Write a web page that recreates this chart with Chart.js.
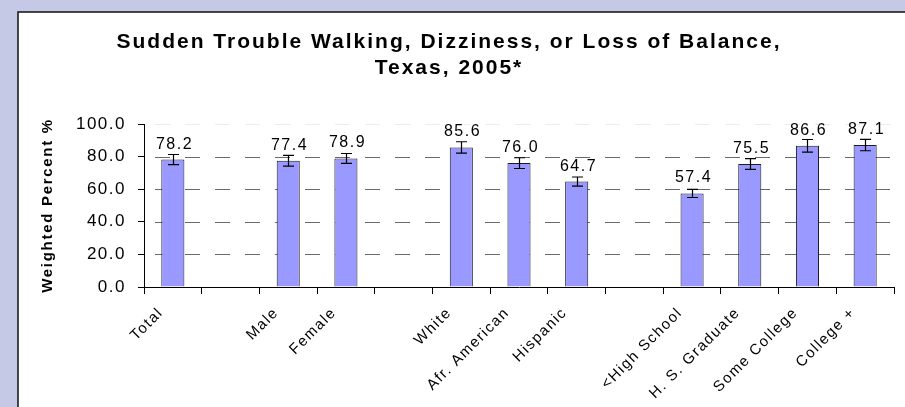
<!DOCTYPE html>
<html>
<head>
<meta charset="utf-8">
<script src="https://cdn.jsdelivr.net/npm/chart.js@4.4.1/dist/chart.umd.min.js"></script>
<style>
  html, body { margin: 0; padding: 0; background: #c5c9e5; }
  #wrap { position: relative; width: 905px; height: 407px; }
</style>
</head>
<body>
<div id="wrap"><canvas id="c" width="905" height="407"></canvas></div>
<script>
// ---- data ----
const titleLines = ['Sudden Trouble Walking, Dizziness, or Loss of Balance,', 'Texas, 2005*'];
const yAxisTitle = 'Weighted Percent %';
const categories = ['Total', '', 'Male', 'Female', '', 'White', 'Afr. American', 'Hispanic', '', '<High School', 'H. S. Graduate', 'Some College', 'College +'];
const values     = [78.2, null, 77.4, 78.9, null, 85.6, 76.0, 64.7, null, 57.4, 75.5, 86.6, 87.1];
const errMinus   = [3.1, null, 3.3, 3.0, null, 3.5, 3.3, 2.8, null, 2.5, 3.3, 3.9, 3.5];
const errPlus    = [3.1, null, 3.3, 3.0, null, 3.5, 3.3, 2.8, null, 2.5, 3.3, 3.9, 3.5];
const yTicks     = [0, 20, 40, 60, 80, 100];

const FONT = "'Liberation Sans', Arial, Helvetica, sans-serif";

const panelPlugin = {
  id: 'panel',
  beforeDraw(chart) {
    const ctx = chart.ctx;
    ctx.save();
    ctx.fillStyle = '#c5c9e5';
    ctx.fillRect(0, 0, chart.width, chart.height);
    ctx.fillStyle = '#ffffff';
    ctx.fillRect(18, 12, chart.width - 18, chart.height - 12);
    ctx.strokeStyle = '#111';
    ctx.lineWidth = 1.5;
    ctx.beginPath();
    ctx.moveTo(18, chart.height);
    ctx.lineTo(18, 12);
    ctx.lineTo(chart.width, 12);
    ctx.stroke();
    ctx.restore();
    ctx.letterSpacing = '1.5px';
  }
};

const gridPlugin = {
  id: 'dashgrid',
  beforeDatasetsDraw(chart) {
    const ctx = chart.ctx, ys = chart.scales.y, a = chart.chartArea;
    ctx.save();
    ctx.lineWidth = 1;
    ctx.setLineDash([15, 15]);
    ctx.lineDashOffset = 19;
    yTicks.forEach(v => {
      if (v === 0) return;
      const y = Math.round(ys.getPixelForValue(v)) + 0.5;
      ctx.strokeStyle = v === 100 ? '#ececec' : '#6a6a6a';
      ctx.beginPath();
      ctx.moveTo(a.left, y);
      ctx.lineTo(a.right, y);
      ctx.stroke();
    });
    ctx.restore();
  }
};

const errLabelPlugin = {
  id: 'errlabels',
  afterDatasetsDraw(chart) {
    const ctx = chart.ctx, ys = chart.scales.y;
    const meta = chart.getDatasetMeta(0);
    ctx.save();
    meta.data.forEach((el, i) => {
      const v = values[i];
      if (v === null || v === undefined) return;
      const x = Math.round(el.x) + 0.5;
      const yHi = ys.getPixelForValue(v + errPlus[i]);
      const yLo = ys.getPixelForValue(v - errMinus[i]);
      ctx.strokeStyle = '#000';
      ctx.lineWidth = 1.2;
      ctx.setLineDash([]);
      ctx.beginPath();
      ctx.moveTo(x, yHi); ctx.lineTo(x, yLo);
      ctx.moveTo(x - 5.5, yHi); ctx.lineTo(x + 5.5, yHi);
      ctx.moveTo(x - 5.5, yLo); ctx.lineTo(x + 5.5, yLo);
      ctx.stroke();
      ctx.fillStyle = '#000';
      ctx.font = '16px ' + FONT;
      ctx.letterSpacing = '1.5px';
      ctx.textAlign = 'center';
      ctx.textBaseline = 'alphabetic';
      ctx.fillText(v.toFixed(1), x + 1, el.y - 11);
    });
    ctx.restore();
  }
};

const titlePlugin = {
  id: 'titles',
  afterDraw(chart) {
    const ctx = chart.ctx, a = chart.chartArea;
    ctx.save();
    ctx.fillStyle = '#000';
    ctx.font = 'bold 21px ' + FONT;
    ctx.letterSpacing = '2px';
    ctx.textAlign = 'center';
    ctx.textBaseline = 'middle';
    ctx.fillText(titleLines[0], 449, 42);
    ctx.fillText(titleLines[1], 449, 68);
    ctx.translate(48, (a.top + a.bottom) / 2);
    ctx.rotate(-Math.PI / 2);
    ctx.font = 'bold 15px ' + FONT;
    ctx.letterSpacing = '1.7px';
    ctx.fillText(yAxisTitle, 0, 0);
    ctx.restore();
  }
};

new Chart(document.getElementById('c'), {
  type: 'bar',
  data: {
    labels: categories,
    datasets: [{
      data: values,
      backgroundColor: '#9999ff',
      borderColor: '#1a1a2a',
      borderWidth: 1,
      barPercentage: 0.4,
      categoryPercentage: 1.0
    }]
  },
  options: {
    responsive: false,
    animation: false,
    devicePixelRatio: 1,
    layout: { padding: { top: 124, right: 11, bottom: 0, left: 0 } },
    plugins: {
      legend: { display: false },
      title: { display: false },
      tooltip: { enabled: false }
    },
    scales: {
      x: {
        grid: { display: true, drawOnChartArea: false, drawTicks: true, tickLength: 7, color: '#000', offset: true },
        border: { display: true, color: '#000', width: 1 },
        ticks: {
          autoSkip: false, maxRotation: 45, minRotation: 45, padding: 10, labelOffset: -12,
          color: '#000', font: { family: FONT, size: 15 }
        },
        afterFit(s) { s.height = 120; }
      },
      y: {
        min: 0, max: 100,
        afterBuildTicks(s) { s.ticks = yTicks.map(v => ({ value: v })); },
        grid: { display: true, drawOnChartArea: false, drawTicks: true, tickLength: 6, color: '#000' },
        border: { display: true, color: '#000', width: 1 },
        ticks: {
          padding: 12, color: '#000', font: { family: FONT, size: 17 },
          callback: v => Number(v).toFixed(1)
        },
        afterFit(s) { s.width = 144; }
      }
    }
  },
  plugins: [panelPlugin, gridPlugin, errLabelPlugin, titlePlugin]
});
</script>
</body>
</html>
